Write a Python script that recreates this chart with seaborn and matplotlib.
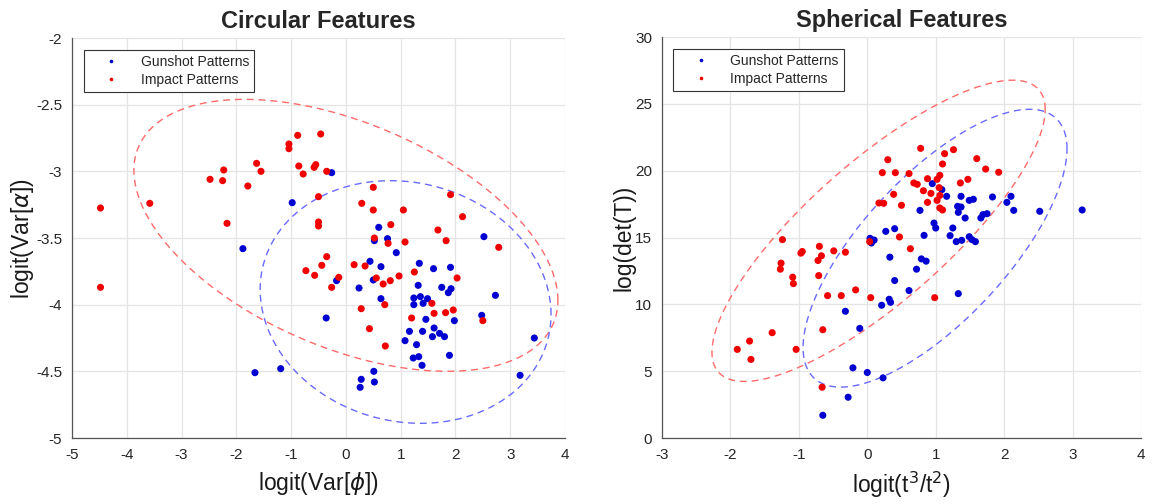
import numpy as np
import pandas as pd
import matplotlib
matplotlib.use("Agg")
import matplotlib.pyplot as plt
from matplotlib.lines import Line2D
import seaborn as sns

# ---------------- data ----------------
circ_gun_x = [-0.26, -0.98, -1.88, 0.60, 0.76, 0.52, 2.52, -0.17, 0.44, 0.64, 0.50, 0.92, 0.24, 0.64,
              1.34, 1.60, 1.91, 1.32, 1.75, 1.92, 1.87, 1.36, 1.24, 1.49, 1.24, 1.41, 2.73, -0.36, 1.46,
              1.98, 2.48, 1.16, 1.40, 1.61, 1.71, 1.58, 1.80, 1.08, 1.29, 1.23, 1.33, 1.39, 1.89, 3.44,
              3.18, -1.66, -1.19, 0.28, 0.26, 0.51, 0.52]
circ_gun_y = [-3.01, -3.235, -3.58, -3.42, -3.505, -3.52, -3.49, -3.82, -3.675, -3.715, -3.815, -3.61,
              -3.875, -3.955, -3.69, -3.73, -3.72, -3.855, -3.87, -3.88, -3.91, -3.94, -3.95, -3.955,
              -4.0, -3.99, -3.93, -4.10, -4.11, -4.12, -4.08, -4.20, -4.20, -4.175, -4.215, -4.24, -4.24,
              -4.27, -4.30, -4.40, -4.39, -4.455, -4.38, -4.25, -4.53, -4.51, -4.48, -4.56, -4.62, -4.50,
              -4.58]
circ_imp_x = [-4.48, -3.58, -2.48, -2.25, -2.23, -2.17, -1.79, -1.63, -1.55, -1.04, -1.04, -0.88, -0.86,
              -0.78, -0.58, -0.55, -0.46, -0.35, -0.50, -0.50, -0.50, 0.50, 0.29, 0.50, 1.05, 0.82, 0.52,
              0.77, 1.08, 1.68, 1.83, 1.91, 2.13, 2.79, -4.48, -0.35, -0.44, -0.73, -0.57, -0.13, -0.26,
              0.15, 0.35, 0.555, 0.68, 0.81, 0.97, 1.25, 2.03, 0.28, 0.71, 0.43, 0.72, 1.57, 1.61, 1.82,
              1.96, 1.20, 2.50]
circ_imp_y = [-3.275, -3.24, -3.06, -3.07, -2.99, -3.39, -3.11, -2.94, -3.0, -2.795, -2.83, -2.73, -2.96,
              -3.02, -2.97, -2.95, -2.72, -3.0, -3.19, -3.38, -3.41, -3.12, -3.24, -3.29, -3.29, -3.40,
              -3.5, -3.54, -3.53, -3.44, -3.52, -3.175, -3.34, -3.57, -3.87, -3.64, -3.705, -3.745, -3.78,
              -3.795, -3.87, -3.70, -3.71, -3.80, -3.845, -3.82, -3.785, -3.755, -3.80, -4.03, -4.0,
              -4.18, -4.31, -3.99, -4.065, -4.06, -4.04, -4.10, -4.12]

sph_gun_x = [0.95, 1.09, 1.16, 0.77, 0.975, 1.0, 0.83, 0.04, 0.10, 0.06, 0.27, 0.40, 1.21, 1.25, 1.33,
             1.32, 1.37, 1.37, 1.43, 1.49, 1.55, 1.30, 1.38, 1.49, 1.53, 1.58, 1.66, 1.69, 1.75, 1.83,
             2.04, 2.10, 2.14, 2.52, 3.14, 0.33, 0.79, 0.86, 0.72, 0.40, 0.61, 0.32, 0.34, 0.21, 1.33,
             -0.32, -0.11, -0.21, 0.0, 0.23, -0.28, -0.65]
sph_gun_y = [19.03, 18.58, 18.08, 17.03, 16.08, 15.71, 15.16, 14.94, 14.81, 14.59, 15.46, 15.66, 15.14,
             15.71, 16.88, 17.33, 17.28, 18.08, 16.46, 17.78, 17.86, 14.69, 14.79, 15.06, 14.84, 14.69,
             16.46, 16.71, 16.78, 18.03, 17.63, 18.08, 17.03, 16.96, 17.06, 13.53, 13.4, 13.23, 12.63,
             11.78, 11.03, 10.38, 10.15, 9.93, 10.8, 9.48, 8.2, 5.25, 4.9, 4.5, 3.05, 1.7]
sph_imp_x = [-1.24, -0.70, 0.035, 0.22, 0.30, 0.41, 0.17, 0.24, 0.385, 0.50, 0.47, 0.63, 0.61, 0.68, 0.73,
             0.78, 0.88, 0.82, 0.88, 0.93, 1.02, 1.06, 1.05, 1.06, 1.02, 1.06, 1.10, 1.10, 1.13, 1.26,
             1.36, 1.47, 1.60, 1.73, 1.92, -1.26, -1.27, -0.97, -0.95, -0.72, -0.67, -0.49, -0.32, -1.09,
             -1.08, -0.71, -0.58, -0.38, -0.17, 0.05, 0.985, -0.65, -1.39, -1.72, -1.90, -1.70, -1.04,
             -0.66]
sph_imp_y = [14.84, 14.34, 14.69, 19.85, 20.82, 19.85, 17.58, 17.56, 18.23, 17.41, 15.04, 14.16, 19.78,
             19.08, 18.98, 21.67, 19.40, 18.50, 17.63, 18.30, 19.35, 19.65, 18.73, 18.15, 17.78, 17.21,
             17.06, 20.50, 21.27, 21.57, 19.08, 19.35, 20.90, 20.12, 19.88, 13.08, 12.63, 13.83, 13.95,
             13.28, 13.63, 14.0, 13.9, 12.03, 11.55, 12.15, 10.65, 10.65, 11.08, 10.5, 10.5, 8.1, 7.88,
             7.25, 6.63, 5.88, 6.63, 3.8]

# ellipse parameters: center and shape matrix [[a, b], [b, d]]
circ_gun_center = [1.09, -3.98]
circ_gun_shape = [[7.05, -0.25], [-0.25, 0.828]]
circ_imp_center = [0.0, -3.48]
circ_imp_shape = [[14.98, -1.887], [-1.887, 1.04]]
sph_gun_center = [0.99, 14.2]
sph_gun_shape = [[3.72, 14.34], [14.34, 108.0]]
sph_imp_center = [0.165, 15.5]
sph_imp_shape = [[5.93, 22.1], [22.1, 127.0]]

labels = ["Gunshot Patterns", "Impact Patterns"]
titles = ["Circular Features", "Spherical Features"]

# ---------------- style ----------------
sns.set_style("white")
plt.rcParams["font.family"] = ["Liberation Sans", "DejaVu Sans"]
plt.rcParams["mathtext.fontset"] = "dejavusans"

BLUE = "#0000d0"
RED = "#f00000"
palette = {labels[0]: BLUE, labels[1]: RED}


def make_df(gx, gy, ix, iy):
    return pd.DataFrame({
        "x": list(gx) + list(ix),
        "y": list(gy) + list(iy),
        "cls": [labels[0]] * len(gx) + [labels[1]] * len(ix),
    })


def ellipse(center, shape, n=400):
    t = np.linspace(0, 2 * np.pi, n)
    L = np.linalg.cholesky(np.array(shape))
    pts = L @ np.vstack([np.cos(t), np.sin(t)])
    return pts[0] + center[0], pts[1] + center[1]


fig = plt.figure(figsize=(11.58, 5.04), dpi=100)
ax1 = fig.add_axes([72 / 1158, 1 - 438 / 504, (565 - 72) / 1158, 400 / 504])
ax2 = fig.add_axes([662 / 1158, 1 - 438 / 504, (1141 - 662) / 1158, 401 / 504])

panels = [
    (ax1, make_df(circ_gun_x, circ_gun_y, circ_imp_x, circ_imp_y),
     (circ_gun_center, circ_gun_shape), (circ_imp_center, circ_imp_shape),
     (-5, 4), (-5, -2), np.arange(-5, 4.1, 1), np.arange(-5, -1.9, 0.5),
     r"logit(Var[$\phi$])", r"logit(Var[$\alpha$])", titles[0]),
    (ax2, make_df(sph_gun_x, sph_gun_y, sph_imp_x, sph_imp_y),
     (sph_gun_center, sph_gun_shape), (sph_imp_center, sph_imp_shape),
     (-3, 4), (0, 30), np.arange(-3, 4.1, 1), np.arange(0, 30.1, 5),
     r"logit(t$^3$/t$^2$)", "log(det(T))", titles[1]),
]

for ax, df, eg, ei, xl, yl, xt, yt, xlab, ylab, title in panels:
    ax.grid(True, color="#e4e4e4", linewidth=0.9)
    ax.set_axisbelow(True)
    ex, ey = ellipse(*ei)
    ax.plot(ex, ey, color="#ff6a6a", linestyle=(0, (5, 3.5)), linewidth=1.0, zorder=2)
    ex, ey = ellipse(*eg)
    ax.plot(ex, ey, color="#6a6aff", linestyle=(0, (5, 3.5)), linewidth=1.0, zorder=2)
    sns.scatterplot(data=df, x="x", y="y", hue="cls", palette=palette, s=26,
                    edgecolor="none", linewidth=0, ax=ax, legend=False, zorder=3)
    ax.set_xlim(*xl)
    ax.set_ylim(*yl)
    ax.set_xticks(xt)
    ax.set_yticks(yt)
    ax.set_xticklabels([f"{v:g}" for v in xt])
    ax.set_yticklabels([f"{v:g}" for v in yt])
    ax.tick_params(direction="in", length=3, width=0.8, labelsize=11, colors="#333333",
                   labelcolor="#262626", pad=7)
    for side in ["top", "right"]:
        ax.spines[side].set_visible(False)
    for side in ["left", "bottom"]:
        ax.spines[side].set_color("#555555")
        ax.spines[side].set_linewidth(0.9)
    ax.set_xlabel(xlab, fontsize=16.5, color="#1a1a1a", labelpad=6)
    ax.set_ylabel(ylab, fontsize=16.5, color="#1a1a1a", labelpad=0)
    ax.set_title(title, fontsize=17, fontweight="bold", pad=7)
    handles = [Line2D([], [], marker="o", linestyle="none", markersize=2.6, color=BLUE,
                      markeredgewidth=0, label=labels[0]),
               Line2D([], [], marker="o", linestyle="none", markersize=2.6, color=RED,
                      markeredgewidth=0, label=labels[1])]
    leg = ax.legend(handles=handles, loc="upper left", bbox_to_anchor=(0.024, 0.97),
                    borderaxespad=0, fontsize=10, frameon=True, fancybox=False,
                    edgecolor="#333333", framealpha=1, handlelength=3.2, handletextpad=0.55,
                    borderpad=0.35, labelspacing=0.3)
    leg.get_frame().set_linewidth(0.8)

fig.savefig("out.png", dpi=100)
